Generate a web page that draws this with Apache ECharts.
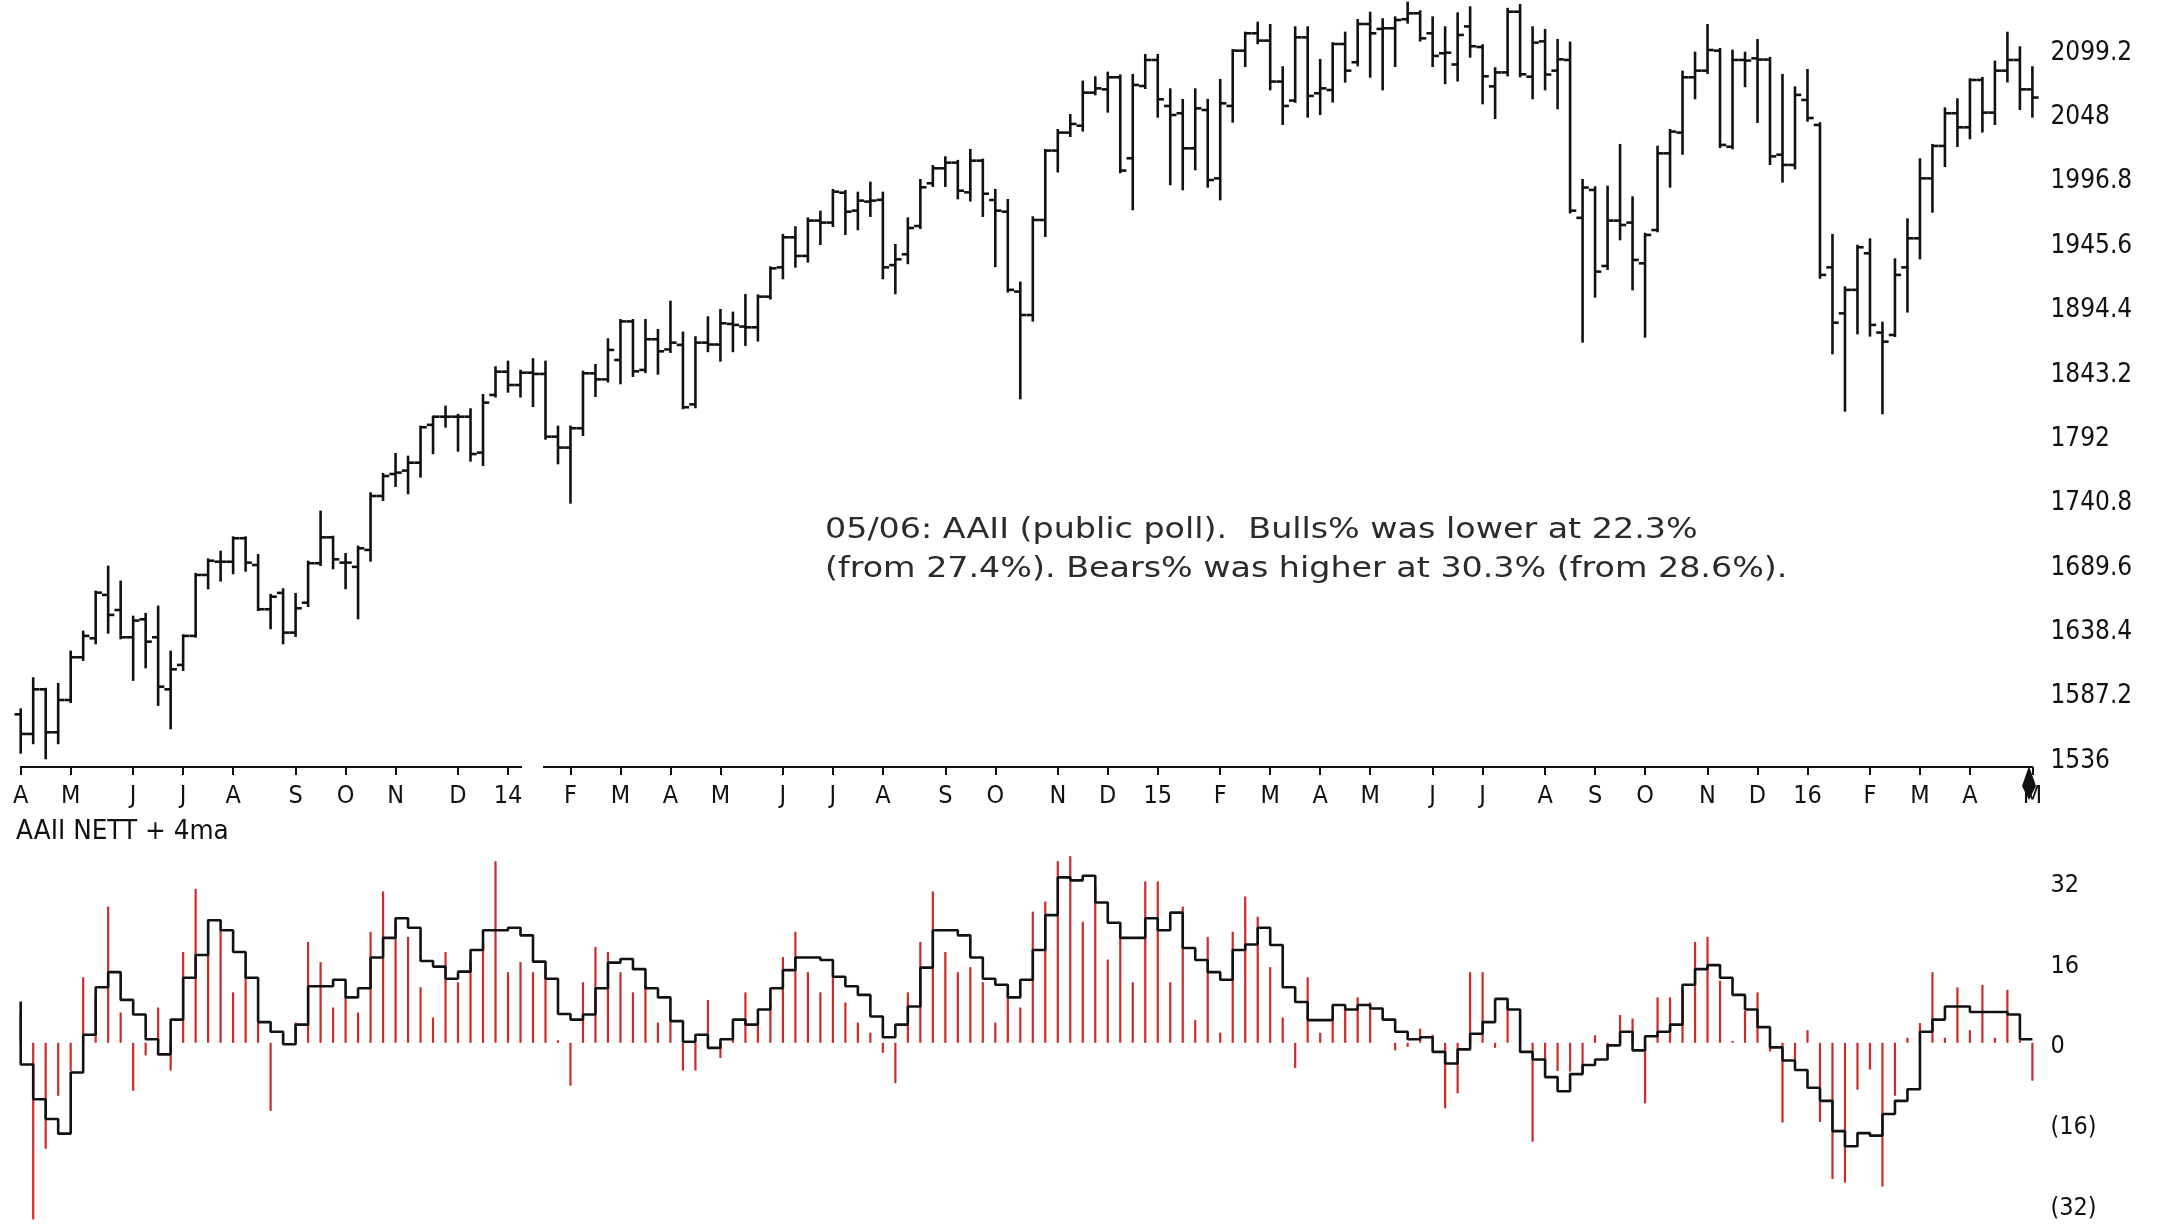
<!DOCTYPE html>
<html>
<head>
<meta charset="utf-8">
<script src="https://cdn.jsdelivr.net/npm/echarts@6/dist/echarts.min.js"></script>
<style>
  html, body { margin: 0; padding: 0; background: #fff; }
  #chart { width: 2157px; height: 1232px; }
</style>
</head>
<body>
<div id="chart"></div>
<script>
/* weekly bars, week ending 2013-04-05 .. 2016-05-06 (162 weeks) */
const barOpen = [
  1570.7, 1555.1, 1590.6, 1556.4, 1582.1, 1616.1, 1631.2, 1665.7, 1653.7, 1632.0,
  1646.3, 1632.0, 1590.6, 1610.0, 1633.1, 1681.6, 1692.1, 1692.1, 1710.8, 1689.5,
  1654.3, 1667.3, 1635.7, 1659.5, 1690.9, 1711.5, 1691.4, 1688.0, 1701.5, 1744.4,
  1761.9, 1764.6, 1770.9, 1801.0, 1807.5, 1807.5, 1807.5, 1778.9, 1824.8, 1843.3,
  1832.7, 1842.5, 1841.5, 1791.6, 1782.9, 1798.3, 1842.0, 1837.2, 1852.6, 1883.3,
  1844.7, 1869.1, 1861.0, 1864.6, 1817.3, 1866.4, 1864.9, 1881.3, 1879.2, 1878.6,
  1903.0, 1926.3, 1950.2, 1935.4, 1963.5, 1961.9, 1985.7, 1971.4, 1978.6, 1980.0,
  1928.1, 1936.7, 1959.2, 1993.2, 2005.1, 2009.6, 1986.0, 2011.2, 1979.9, 1970.6,
  1907.0, 1888.4, 1964.0, 2019.2, 2033.5, 2039.0, 2065.3, 2067.9, 2077.5, 2013.1,
  2070.6, 2091.3, 2054.7, 2048.9, 2021.0, 2051.5, 1997.1, 2054.7, 2098.7, 2112.5,
  2106.7, 2074.1, 2059.0, 2109.3, 2064.8, 2067.4, 2104.0, 2089.5, 2119.9, 2116.0,
  2116.5, 2123.7, 2128.4, 2112.5, 2096.6, 2087.7, 2118.0, 2101.6, 2070.3, 2081.4,
  2129.7, 2078.0, 2106.1, 2082.8, 2091.3, 1965.7, 1987.9, 1927.4, 1963.5, 1961.9,
  1929.5, 1956.0, 2017.0, 2033.5, 2077.5, 2082.8, 2098.7, 2022.3, 2091.3, 2092.6,
  2091.6, 2015.9, 2007.8, 2059.5, 2039.6, 1926.3, 1889.7, 1908.4, 1937.5, 1874.4,
  1872.5, 1926.3, 1949.4, 1997.1, 2022.9, 2048.9, 2037.7, 2075.4, 2049.4, 2082.8,
  2091.3, 2067.9
];
const barHigh = [
  1574.7, 1599.4, 1591.0, 1594.9, 1620.6, 1636.5, 1668.3, 1688.2, 1676.3, 1648.4,
  1650.6, 1656.4, 1620.6, 1633.5, 1682.4, 1694.0, 1700.1, 1711.5, 1711.5, 1697.5,
  1665.7, 1670.2, 1666.5, 1692.2, 1732.0, 1712.0, 1698.3, 1704.1, 1746.6, 1761.9,
  1777.8, 1775.7, 1799.6, 1807.5, 1815.5, 1809.0, 1813.4, 1824.8, 1846.8, 1851.3,
  1844.1, 1853.2, 1851.3, 1799.6, 1799.6, 1843.3, 1848.6, 1869.1, 1884.4, 1884.4,
  1884.4, 1876.5, 1899.0, 1874.4, 1870.7, 1886.6, 1892.4, 1890.3, 1904.3, 1904.0,
  1926.3, 1952.1, 1958.2, 1965.3, 1970.6, 1987.9, 1987.0, 1985.7, 1993.7, 1985.7,
  1944.1, 1965.3, 1995.8, 2006.9, 2013.9, 2011.0, 2019.7, 2012.0, 1987.9, 1979.9,
  1914.2, 1966.1, 2019.7, 2035.6, 2047.5, 2074.1, 2077.5, 2081.2, 2079.0, 2079.4,
  2095.3, 2095.3, 2067.9, 2059.5, 2067.9, 2059.5, 2075.4, 2099.2, 2113.0, 2121.0,
  2119.1, 2085.5, 2117.3, 2117.3, 2091.3, 2104.6, 2113.0, 2123.1, 2128.9, 2123.7,
  2125.2, 2136.9, 2130.0, 2125.2, 2117.3, 2128.4, 2133.2, 2103.0, 2084.7, 2132.0,
  2135.0, 2117.3, 2115.2, 2107.2, 2105.1, 1995.8, 1990.0, 1990.5, 2023.7, 1982.0,
  1953.0, 2022.3, 2035.6, 2082.0, 2097.1, 2119.1, 2100.0, 2098.7, 2097.1, 2107.2,
  2093.0, 2079.4, 2069.5, 2083.3, 2041.0, 1952.1, 1910.4, 1943.5, 1948.6, 1882.3,
  1932.7, 1964.5, 2012.3, 2023.7, 2052.8, 2060.0, 2075.9, 2077.0, 2090.0, 2113.0,
  2101.4, 2085.5
];
const barLow = [
  1540.2, 1547.7, 1535.7, 1547.7, 1580.5, 1614.0, 1627.2, 1635.7, 1631.2, 1598.1,
  1608.1, 1578.2, 1559.6, 1606.0, 1632.5, 1671.0, 1677.1, 1682.9, 1685.0, 1653.7,
  1639.2, 1627.2, 1633.1, 1656.9, 1689.5, 1686.9, 1671.0, 1647.1, 1693.0, 1741.2,
  1752.4, 1746.6, 1759.8, 1778.4, 1799.6, 1780.5, 1772.5, 1769.1, 1823.5, 1827.4,
  1823.5, 1816.0, 1790.0, 1770.4, 1739.1, 1792.9, 1824.0, 1835.5, 1834.1, 1839.9,
  1843.0, 1841.7, 1859.0, 1814.2, 1815.0, 1859.6, 1852.1, 1859.6, 1864.6, 1868.1,
  1901.5, 1917.6, 1926.8, 1930.9, 1944.9, 1959.2, 1952.9, 1956.6, 1967.2, 1917.6,
  1905.7, 1929.6, 1957.6, 1991.1, 1991.1, 1981.2, 1979.4, 1967.2, 1927.3, 1907.0,
  1822.1, 1883.9, 1951.3, 2002.6, 2030.8, 2035.1, 2064.0, 2050.2, 2002.0, 1972.5,
  2069.0, 2046.2, 1992.4, 1988.4, 2004.3, 1990.5, 1980.4, 2042.2, 2086.5, 2104.6,
  2067.9, 2040.4, 2058.0, 2046.2, 2048.3, 2058.2, 2074.1, 2087.0, 2078.0, 2067.9,
  2086.5, 2121.0, 2106.7, 2086.5, 2072.8, 2074.9, 2093.9, 2056.8, 2045.1, 2079.0,
  2078.3, 2060.8, 2067.9, 2052.8, 1970.0, 1867.2, 1903.0, 1925.0, 1948.6, 1908.8,
  1871.2, 1955.0, 1990.5, 2016.7, 2060.8, 2081.0, 2022.0, 2021.0, 2070.4, 2042.0,
  2008.5, 1994.5, 2005.0, 2043.0, 1918.0, 1857.9, 1812.3, 1873.8, 1872.0, 1810.2,
  1871.7, 1891.1, 1933.5, 1970.6, 2006.9, 2022.9, 2029.0, 2034.3, 2040.4, 2074.2,
  2052.2, 2046.2
];
const barClose = [
  1555.1, 1590.6, 1556.4, 1582.1, 1616.1, 1633.1, 1667.5, 1649.8, 1632.0, 1645.3,
  1628.5, 1592.7, 1606.5, 1633.1, 1681.6, 1692.9, 1692.1, 1710.8, 1691.4, 1654.3,
  1664.3, 1635.7, 1655.1, 1690.9, 1711.5, 1694.0, 1691.4, 1702.8, 1744.4, 1760.3,
  1763.0, 1770.9, 1799.1, 1807.5, 1807.5, 1807.5, 1777.8, 1818.7, 1843.3, 1832.7,
  1842.5, 1841.5, 1791.6, 1782.9, 1798.3, 1842.0, 1837.2, 1860.6, 1883.3, 1843.6,
  1869.1, 1859.5, 1866.4, 1815.0, 1866.4, 1864.9, 1881.8, 1880.5, 1878.6, 1903.0,
  1925.5, 1950.2, 1935.4, 1963.5, 1961.9, 1986.5, 1970.6, 1979.4, 1979.4, 1926.3,
  1932.7, 1957.6, 1990.0, 2005.1, 2009.6, 1987.3, 2011.2, 1984.9, 1971.4, 1908.4,
  1888.4, 1964.0, 2019.2, 2033.5, 2040.4, 2065.3, 2068.7, 2077.5, 2003.3, 2071.4,
  2091.3, 2060.0, 2047.5, 2021.0, 2052.8, 1995.8, 2056.8, 2098.7, 2112.5, 2106.7,
  2074.1, 2054.7, 2109.3, 2062.7, 2068.7, 2104.0, 2082.8, 2119.9, 2112.5, 2116.5,
  2123.1, 2128.4, 2108.5, 2094.5, 2097.1, 2111.2, 2102.2, 2078.3, 2081.4, 2129.7,
  2079.9, 2105.1, 2079.7, 2091.8, 1971.4, 1989.8, 1922.9, 1963.5, 1960.0, 1932.2,
  1952.1, 2017.0, 2034.3, 2077.5, 2082.8, 2099.2, 2023.7, 2091.3, 2090.8, 2091.6,
  2014.6, 2007.8, 2063.5, 2045.1, 1920.3, 1882.3, 1908.4, 1942.3, 1880.5, 1867.2,
  1920.3, 1949.4, 1997.1, 2022.9, 2048.9, 2037.7, 2075.4, 2049.4, 2082.8, 2091.3,
  2067.9, 2061.4
];

/* AAII bulls minus bears, weekly (red sticks) */
const nett = [
  6, -35, -21, -10.5, -5.6, 13, 9, 27, 6, -9.5,
  -2.5, 7, -5.5, 18, 30.5, 24.5, 22.5, 10, 14, 4,
  -13.5, 2, 4, 20, 16, 7, 9, 6, 22, 30,
  24, 21, 11, 5, 18, 12, 16, 20, 36, 14,
  16, 14, 15, 0.5, -8.5, 12, 19, 18, 14, 10,
  11.5, 4, 5, -5.5, -5.5, 8.5, -3, 3, 10, 4,
  8, 17, 22, 14, 10, 13, 8, 4, 2, -2,
  -8, 10, 20, 30, 18, 14, 15, 12, 4, 10,
  7, 26, 28, 36, 37, 24, 31, 16.5, 21, 12,
  32, 32, 12, 27, 4.5, 21, 2, 22, 29, 25,
  15, 5, -5, 13, 2, 5, 7, 9, 8, 0,
  -1.5, -0.8, 2.8, 1.6, -13, -10, 14, 14, -1, 8,
  5.5, -19.6, -6, -5.6, -5.7, -6, 1.5, -1.2, 5.5, 4.8,
  -12, 9, 9, 10.4, 20, 21, 12.3, 0.4, 6.3, 10,
  -1.7, -15.8, -4.2, 2.5, -15.7, -27, -27.7, -9.3, -5.3, -28.5,
  -10.5, 1, 3.9, 14, 1, 11, 2.5, 11.5, 1, 10.5,
  0.5, -7.5
];
/* 4-week average as drawn (black step line) */
const nett4ma = [
  8.2, -4.3, -11.2, -15.1, -18.0, -5.9, 1.6, 11.0, 14.0, 8.5,
  5.6, 0.7, -2.3, 4.6, 12.9, 17.4, 24.3, 22.3, 18.0, 12.9,
  4.1, 2.2, -0.3, 3.6, 11.2, 11.2, 12.5, 9.0, 10.8, 16.9,
  20.8, 24.7, 22.8, 16.2, 15.1, 12.7, 14.1, 18.4, 22.3, 22.3,
  22.8, 21.3, 16.1, 12.7, 5.7, 4.6, 5.6, 10.8, 15.9, 16.6,
  14.6, 10.8, 9.0, 4.3, 0.2, 1.6, -1.0, 0.7, 4.6, 3.6,
  6.6, 10.8, 14.4, 16.9, 16.9, 16.4, 13.1, 11.2, 9.5, 5.2,
  1.1, 3.6, 7.2, 14.9, 22.3, 22.3, 21.3, 16.9, 12.7, 11.5,
  9.0, 12.5, 18.4, 25.3, 32.8, 32.2, 33.1, 27.8, 23.8, 20.8,
  20.8, 24.7, 22.3, 25.8, 18.8, 16.4, 14.0, 12.5, 18.4, 19.5,
  22.8, 19.4, 11.0, 8.1, 4.5, 4.5, 7.5, 6.6, 7.5, 6.8,
  4.6, 2.2, 0.7, 1.1, -1.8, -4.1, -1.3, 1.8, 4.1, 8.7,
  6.6, -1.8, -3.3, -6.8, -9.6, -6.2, -4.4, -3.3, -0.5, 2.2,
  -1.5, 1.3, 2.2, 3.6, 11.5, 14.6, 15.4, 12.9, 9.5, 6.6,
  3.1, -0.9, -3.5, -5.4, -8.9, -11.5, -17.5, -20.5, -17.9, -18.4,
  -14.1, -11.5, -9.2, 2.2, 4.6, 7.2, 7.2, 6.1, 6.1, 6.1,
  5.6, 0.7
];

/* month marks: [week index, label] */
const monthTicks = [
  [0, 'A'], [4, 'M'], [9, 'J'], [13, 'J'], [17, 'A'], [22, 'S'], [26, 'O'], [30, 'N'], [35, 'D'],
  [39, '14'], [44, 'F'], [48, 'M'], [52, 'A'], [56, 'M'], [61, 'J'], [65, 'J'], [69, 'A'], [74, 'S'],
  [78, 'O'], [83, 'N'], [87, 'D'], [91, '15'], [96, 'F'], [100, 'M'], [104, 'A'], [108, 'M'],
  [113, 'J'], [117, 'J'], [122, 'A'], [126, 'S'], [130, 'O'], [135, 'N'], [139, 'D'], [143, '16'],
  [148, 'F'], [152, 'M'], [156, 'A'], [161, 'M']
];
const priceTicks = [1536, 1587.2, 1638.4, 1689.6, 1740.8, 1792, 1843.2, 1894.4, 1945.6, 1996.8, 2048, 2099.2];
const nettTicks = [32, 16, 0, -16, -32];

const note = '05/06: AAII (public poll).  Bulls% was lower at 22.3%\n(from 27.4%). Bears% was higher at 30.3% (from 28.6%).';

const NARROW = '"DejaVu Sans Condensed", "DejaVu Sans", sans-serif';
const INK = '#111';
const RED = '#cc2b2b';

const cats = barClose.map((_, i) => i);
const tickLabel = new Map(monthTicks);
const isTick = i => tickLabel.has(i);

const chart = echarts.init(document.getElementById('chart'), null, { renderer: 'canvas' });

function ohlcItem(params, api) {
  const x = api.value(0);
  const o = api.coord([x, api.value(1)]);
  const h = api.coord([x, api.value(2)]);
  const l = api.coord([x, api.value(3)]);
  const c = api.coord([x, api.value(4)]);
  const w = 6.2;
  const style = { stroke: INK, lineWidth: 2.6 };
  return {
    type: 'group',
    children: [
      { type: 'line', shape: { x1: h[0], y1: h[1] - 1, x2: l[0], y2: l[1] + 1 }, style },
      { type: 'line', shape: { x1: o[0] - w, y1: o[1], x2: o[0], y2: o[1] }, style },
      { type: 'line', shape: { x1: c[0], y1: c[1], x2: c[0] + w, y2: c[1] }, style },
    ],
  };
}

chart.setOption({
  animation: false,
  backgroundColor: '#fff',
  grid: [
    { left: 20.7, width: 2011.7, top: 0, height: 767 },
    { left: 20.7, width: 2011.7, top: 841, height: 398 },
  ],
  xAxis: [
    {
      type: 'category', gridIndex: 0, data: cats, boundaryGap: false,
      axisLine: { lineStyle: { color: INK, width: 2 } },
      axisTick: { interval: isTick, length: 8, lineStyle: { color: INK, width: 2 } },
      axisLabel: { interval: isTick, formatter: (v, i) => tickLabel.get(i) || '', fontFamily: NARROW, fontSize: 25, color: INK, margin: 17 },
      splitLine: { show: false },
    },
    { type: 'category', gridIndex: 1, data: cats, boundaryGap: false, show: false },
  ],
  yAxis: [
    {
      type: 'value', gridIndex: 0, position: 'right', min: 1528.8, max: 2139.0,
      axisLine: { show: false }, axisTick: { show: false }, splitLine: { show: false },
      axisLabel: {
        customValues: priceTicks, margin: 18,
        formatter: v => '{t|' + String(+v.toFixed(1)) + '}',
        rich: { t: { fontFamily: NARROW, fontSize: 26, color: INK, padding: [6, 0, 0, 0] } },
      },
    },
    {
      type: 'value', gridIndex: 1, position: 'right', min: -37.5, max: 40,
      axisLine: { show: false }, axisTick: { show: false }, splitLine: { show: false },
      axisLabel: {
        customValues: nettTicks, margin: 18,
        formatter: v => '{t|' + (v < 0 ? '(' + (-v) + ')' : String(v)) + '}',
        rich: { t: { fontFamily: NARROW, fontSize: 25, color: INK, padding: [8, 0, 0, 0] } },
      },
    },
  ],
  series: [
    {
      type: 'custom', xAxisIndex: 0, yAxisIndex: 0, renderItem: ohlcItem,
      data: cats.map(i => [i, barOpen[i], barHigh[i], barLow[i], barClose[i]]),
      encode: { x: 0, y: [1, 2, 3, 4] }, clip: false,
    },
    {
      type: 'bar', xAxisIndex: 1, yAxisIndex: 1, data: nett, barWidth: 2.2,
      itemStyle: { color: RED }, silent: true,
    },
    {
      type: 'line', xAxisIndex: 1, yAxisIndex: 1, data: nett4ma, step: 'start',
      symbol: 'none', lineStyle: { color: INK, width: 2.6 }, silent: true, z: 3,
    },
  ],
  graphic: [
    { type: 'text', x: 825, y: 511.5, scaleX: 1.19, z: 50,
      style: { text: note, fontFamily: '"DejaVu Sans", Verdana, sans-serif', fontSize: 28, lineHeight: 38.5, fill: '#2b2b2b', verticalAlign: 'top' } },
    { type: 'text', x: 16, y: 819, scaleX: 1.06, z: 50,
      style: { text: 'AAII NETT + 4ma', fontFamily: NARROW, fontSize: 26, fill: INK, verticalAlign: 'top' } },
    /* break in the date axis line between the year mark and February */
    { type: 'rect', shape: { x: 522, y: 763, width: 21, height: 8 }, style: { fill: '#fff' }, z: 100 },
    /* the marker glyph over the last date mark */
    { type: 'polygon', shape: { points: [[2029, 766], [2036, 786], [2029, 800], [2022, 786]] }, style: { fill: '#111' }, z: 100 },
  ],
});
</script>
</body>
</html>
